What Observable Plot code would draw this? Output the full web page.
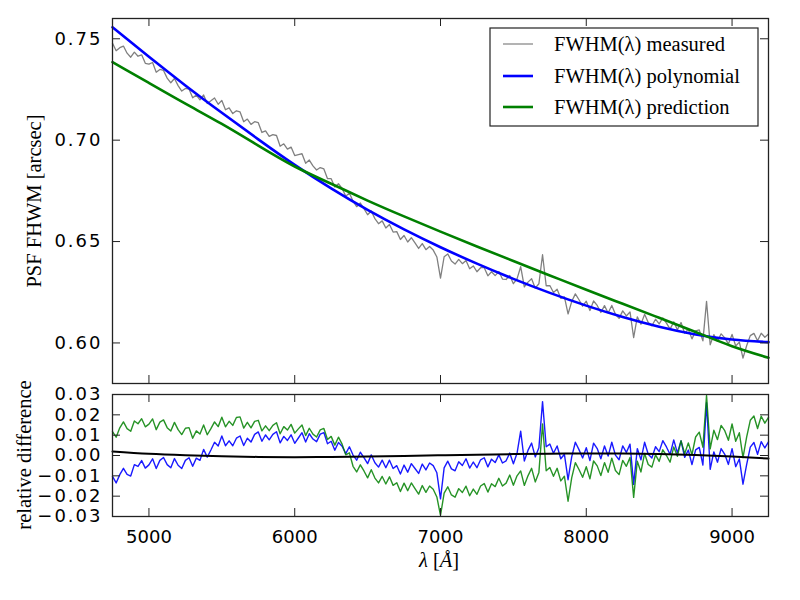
<!DOCTYPE html>
<html><head><meta charset="utf-8">
<script src="https://cdn.jsdelivr.net/npm/d3@7"></script>
<script src="https://cdn.jsdelivr.net/npm/@observablehq/plot@0.6"></script>
<style>
body{margin:0;background:#fff;}
#chart{position:relative;width:800px;height:600px;background:#fff;}
#chart svg{position:absolute;left:0;}
</style></head><body><div id="chart"></div>
<script>
// ---------- data ----------
// smooth model curves, sampled every 250 Å
const wlModel = [4750,5000,5250,5500,5750,6000,6250,6500,6750,7000,7250,7500,7750,8000,8250,8500,8750,9000,9250];
const polynomial = [0.7557,0.7411,0.7270,0.7135,0.7004,0.6878,0.6762,0.6656,0.6560,0.6472,0.6391,0.6316,0.6247,0.6184,0.6128,0.6080,0.6042,0.6017,0.6004];
const prediction = [0.7385,0.7282,0.7180,0.7080,0.6973,0.6870,0.6785,0.6702,0.6624,0.6549,0.6476,0.6404,0.6333,0.6262,0.6193,0.6124,0.6054,0.5984,0.5927];
const relModel = [0.0020,0.0008,0.0001,-0.0004,-0.0007,-0.0008,-0.0007,-0.0005,-0.0002,0.0001,0.0004,0.0007,0.0009,0.0010,0.0010,0.0007,0.0002,-0.0005,-0.0015];

// measured spectra, one value every 25 Å from 4750 Å to 9250 Å (181 samples)
const wlStart = 4750, wlStep = 25;
const measured = [
.7478,.7441,.7456,.7464, .7429,.7409,.7434,.7414, .7421,.7379,.7375,.7383, .7335,.7349,.7344,.7306,
.7283,.7304,.7269,.7242, .7255,.7252,.7209,.7222, .7199,.7223,.7181,.7194, .7208,.7177,.7196,.7150,
.7159,.7131,.7145,.7139, .7091,.7104,.7078,.7091, .7086,.7038,.7046,.7019, .7027,.7023,.6970,.6982,
.6956,.6966,.6924,.6929, .6933,.6886,.6902,.6873, .6853,.6865,.6858,.6810, .6810,.6769,.6785,.6762,
.6724,.6739,.6699,.6672, .6690,.6662,.6632,.6651, .6613,.6588,.6602,.6567, .6584,.6547,.6549,.6510,
.6530,.6498,.6519,.6493, .6466,.6490,.6460,.6476, .6458,.6424,.6320,.6425, .6439,.6404,.6389,.6412,
.6391,.6407,.6366,.6380, .6351,.6371,.6371,.6331, .6351,.6332,.6352,.6315, .6313,.6333,.6292,.6316,
.6376,.6276,.6300,.6317, .6270,.6292,.6435,.6282, .6283,.6249,.6265,.6220, .6227,.6143,.6204,.6242,
.6213,.6181,.6206,.6160, .6207,.6185,.6150,.6184, .6148,.6185,.6141,.6121, .6158,.6133,.6153,.6026,
.6129,.6092,.6141,.6101, .6085,.6117,.6094,.6123, .6098,.6068,.6104,.6065, .6101,.6048,.6068,.6020,
.6059,.6064,.6010,.6205, .5991,.6041,.6008,.6045, .6025,.5995,.6042,.5985, .6004,.5925,.5986,.6036,
.6047,.6011,.6048,.6028, .6044];
// relative difference measured vs polynomial
const relPoly = [
-.0103,-.0135,-.0094,-.0063, -.0093,-.0101,-.0045,-.0054, -.0025,-.0062,-.0046,-.0016, -.0064,-.0024,-.0010,-.0045,
-.0060,-.0015,-.0048,-.0064, -.0024,-.0011,-.0053,-.0013, -.0024,.0030,-.0008,.0027, .0065,.0047,.0096,.0048,
.0072,.0048,.0085,.0096, .0049,.0085,.0066,.0104, .0116,.0070,.0101,.0077, .0104,.0117,.0062,.0094,
.0074,.0102,.0060,.0086, .0112,.0066,.0107,.0081, .0068,.0105,.0113,.0058, .0070,.0026,.0064,.0046,
.0009,.0043,.0002,-.0023, .0016,-.0010,-.0040,.0003, -.0036,-.0057,-.0023,-.0060, -.0023,-.0064,-.0050,-.0091,
-.0047,-.0082,-.0040,-.0064, -.0088,-.0042,-.0071,-.0037, -.0050,-.0085,-.0213,-.0061, -.0028,-.0066,-.0075,-.0031,
-.0049,-.0016,-.0062,-.0032, -.0060,-.0021,-.0011,-.0056, -.0018,-.0035,.0003,-.0037, -.0026,.0012,-.0041,.0011,
.0120,-.0027,.0025,.0061, -.0007,.0038,.0265,.0043, .0056,.0011,.0047,-.0016, .0006,-.0119,-.0007,.0065,
.0029,-.0012,.0038,-.0025, .0061,.0034,-.0016,.0047, -.0003,.0065,.0002,-.0021, .0047,.0015,.0056,-.0142,
.0034,-.0021,.0065,.0006, -.0012,.0043,.0019,.0073, .0042,.0005,.0077,.0013, .0072,-.0009,.0027,-.0045,
.0028,.0040,-.0047,.0260, -.0068,.0018,-.0033,.0034, .0006,-.0044,.0034,-.0055, -.0017,-.0141,-.0045,.0041,
.0064,.0006,.0068,.0037, .0067];
// relative difference measured vs prediction
const relPred = [
.0117,.0090,.0136,.0165, .0132,.0119,.0170,.0156, .0181,.0141,.0154,.0180, .0127,.0164,.0175,.0137,
.0120,.0163,.0127,.0103, .0134,.0137,.0085,.0121, .0106,.0150,.0102,.0132, .0165,.0142,.0188,.0141,
.0168,.0148,.0187,.0190, .0135,.0163,.0136,.0168, .0173,.0121,.0146,.0122, .0148,.0161,.0107,.0142,
.0125,.0153,.0110,.0131, .0150,.0098,.0134,.0105, .0091,.0126,.0133,.0079, .0094,.0051,.0090,.0056,
.0003,.0013,-.0053,-.0081, -.0046,-.0076,-.0110,-.0070, -.0111,-.0135,-.0103,-.0140, -.0105,-.0147,-.0134,-.0177,
-.0136,-.0173,-.0135,-.0163, -.0190,-.0148,-.0181,-.0150, -.0166,-.0204,-.0295,-.0185, -.0154,-.0194,-.0205,-.0163,
-.0182,-.0151,-.0198,-.0165, -.0191,-.0150,-.0138,-.0180, -.0139,-.0153,-.0112,-.0150, -.0136,-.0096,-.0146,-.0100,
-.0076,-.0147,-.0100,-.0063, -.0130,-.0083,.0155,-.0075, -.0059,-.0102,-.0063,-.0125, -.0102,-.0225,-.0110,-.0035,
-.0069,-.0107,-.0055,-.0115, -.0027,-.0051,-.0099,-.0035, -.0083,-.0013,-.0074,-.0094, -.0024,-.0053,-.0010,-.0206,
-.0028,-.0081,.0010,-.0044, -.0057,.0003,-.0029,.0028, .0000,-.0033,.0042,-.0004, .0073,.0009,.0062,.0004,
.0091,.0115,.0041,.0295, .0033,.0124,.0078,.0148, .0122,.0075,.0155,.0070, .0112,-.0010,.0090,.0173,
.0194,.0133,.0193,.0159, .0187];

const xTicks = [5000,6000,7000,8000,9000];
const topYTicks = [0.60,0.65,0.70,0.75];
const botYTicks = [-0.03,-0.02,-0.01,0.00,0.01,0.02,0.03];
const legendLabels = ["FWHM(λ) measured","FWHM(λ) polynomial","FWHM(λ) prediction"];

// ---------- tables ----------
const toRows = (arr) => arr.map((v,i) => ({wl: wlStart + wlStep*i, v}));
const measRows = toRows(measured), relPolyRows = toRows(relPoly), relPredRows = toRows(relPred);
const modelRows = (arr) => wlModel.map((wl,i) => ({wl, v: arr[i]}));

// ---------- layout ----------
const W = 800, ML = 112, MR = 32, TK = 8;
const FRAME = "#222";
function insideTicks(h, mt, mb, yTicks){
  const fw = W-ML-MR, fh = h-mt-mb;
  const o = {stroke: FRAME, strokeWidth: 1};
  return [
    Plot.tickX(xTicks, {x: d=>d, ...o, insetBottom: fh-TK}),
    Plot.tickX(xTicks, {x: d=>d, ...o, insetTop: fh-TK}),
    Plot.tickY(yTicks, {y: d=>d, ...o, insetRight: fw-TK}),
    Plot.tickY(yTicks, {y: d=>d, ...o, insetLeft: fw-TK})
  ];
}
const baseStyle = {fontFamily: "DejaVu Sans", fontSize: "18px", background: "transparent", color: "#000", overflow: "visible"};

const topH = 388, topMT = 18, topMB = 5;
const topPlot = Plot.plot({
  width: W, height: topH, marginLeft: ML, marginRight: MR, marginTop: topMT, marginBottom: topMB,
  x: {domain: [4750, 9250], axis: null},
  y: {domain: [0.58, 0.76], axis: null},
  style: baseStyle,
  marks: [
    Plot.line(measRows, {x: "wl", y: "v", stroke: "#808080", strokeWidth: 1.3}),
    Plot.line(modelRows(polynomial), {x: "wl", y: "v", stroke: "#0000ff", strokeWidth: 2.6, curve: "natural"}),
    Plot.line(modelRows(prediction), {x: "wl", y: "v", stroke: "#008000", strokeWidth: 2.6, curve: "natural"}),
    Plot.axisY(topYTicks, {anchor: "left", label: null, tickSize: 0, tickPadding: 10, tickFormat: d3.format(".2f"), fontSize: 18}),
    ...insideTicks(topH, topMT, topMB, topYTicks),
    Plot.frame({stroke: FRAME, strokeWidth: 1.3})
  ]
});
topPlot.style.top = "0px";

// the lower panel's svg starts a little higher so its top tick label is not clipped
const botTop = 376, botH = 224, botMT = 18, botMB = 84;
const botPlot = Plot.plot({
  width: W, height: botH, marginLeft: ML, marginRight: MR, marginTop: botMT, marginBottom: botMB,
  x: {domain: [4750, 9250], axis: null},
  y: {domain: [-0.03, 0.03], axis: null},
  style: baseStyle,
  marks: [
    Plot.line(relPolyRows, {x: "wl", y: "v", stroke: "#0000ff", strokeOpacity: 0.9, strokeWidth: 1.4}),
    Plot.line(relPredRows, {x: "wl", y: "v", stroke: "#008000", strokeOpacity: 0.85, strokeWidth: 1.4}),
    Plot.line(modelRows(relModel), {x: "wl", y: "v", stroke: "#000", strokeWidth: 2, curve: "natural"}),
    Plot.axisY(botYTicks, {anchor: "left", label: null, tickSize: 0, tickPadding: 10, tickFormat: d3.format(".2f"), fontSize: 18}),
    Plot.axisX(xTicks, {anchor: "bottom", label: null, tickSize: 0, tickPadding: 14, tickFormat: d3.format("d"), fontSize: 18}),
    ...insideTicks(botH, botMT, botMB, botYTicks),
    Plot.frame({stroke: FRAME, strokeWidth: 1.3})
  ]
});
botPlot.style.top = botTop + "px";

// wider digit spacing on the decimal (y) tick labels, as in the reference
for (const svg of [topPlot, botPlot]) {
  svg.querySelectorAll("text").forEach(t => {
    if (t.textContent.includes(".")) t.style.letterSpacing = "2px";
  });
}

const chart = document.getElementById("chart");
chart.appendChild(topPlot);
chart.appendChild(botPlot);

// ---------- overlay: labels and legend ----------
const ov = d3.select(chart).append("svg")
  .attr("width", W).attr("height", 600)
  .style("top", "0px").style("pointer-events", "none");
const serif = "Liberation Serif", fs = 20.5;
ov.append("text").attr("transform", "translate(41,201) rotate(-90)")
  .attr("text-anchor", "middle").attr("font-family", serif).attr("font-size", fs)
  .text("PSF FHWM [arcsec]");
ov.append("text").attr("transform", "translate(31,455) rotate(-90)")
  .attr("text-anchor", "middle").attr("font-family", serif).attr("font-size", fs)
  .text("relative difference");
const xl = ov.append("text").attr("x", 439).attr("y", 567).attr("text-anchor", "middle")
  .attr("font-family", serif).attr("font-size", fs);
xl.append("tspan").attr("font-style", "italic").text("λ");
xl.append("tspan").text(" [");
xl.append("tspan").attr("font-style", "italic").text("Å");
xl.append("tspan").text("]");

const lg = ov.append("g");
lg.append("rect").attr("x", 490).attr("y", 28).attr("width", 268).attr("height", 98)
  .attr("fill", "white").attr("stroke", FRAME).attr("stroke-width", 1.2);
const lgStyles = [["#808080", 1.2], ["#0000ff", 2.6], ["#008000", 2.6]];
const rowY = [44, 76, 107];
legendLabels.forEach((t, i) => {
  lg.append("line").attr("x1", 503).attr("x2", 533).attr("y1", rowY[i]).attr("y2", rowY[i])
    .attr("stroke", lgStyles[i][0]).attr("stroke-width", lgStyles[i][1]);
  lg.append("text").attr("x", 554).attr("y", rowY[i] + 6.5)
    .attr("font-family", serif).attr("font-size", fs).text(t);
});
</script></body></html>
